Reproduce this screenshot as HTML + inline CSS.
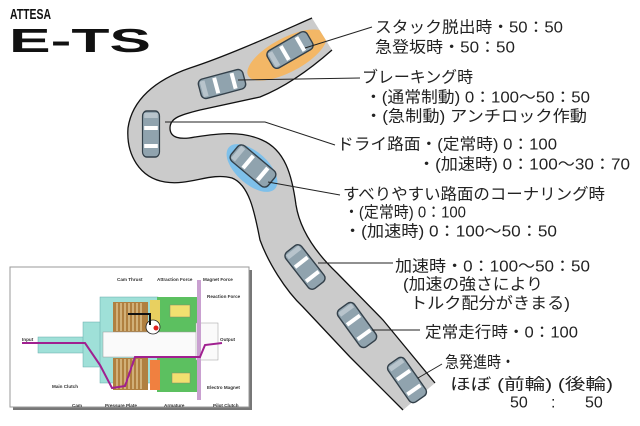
<!DOCTYPE html>
<html><head><meta charset="utf-8"><style>
html,body{margin:0;padding:0;background:#fff;width:640px;height:426px;overflow:hidden}
svg{display:block}
.t{font-family:"Liberation Sans","Noto Sans CJK JP",sans-serif;font-size:16px;fill:#222;dominant-baseline:central}
.s{font-family:"Liberation Sans",sans-serif;font-size:4.6px;fill:#333;font-weight:bold}
</style></head><body>
<svg width="640" height="426" viewBox="0 0 640 426" xmlns="http://www.w3.org/2000/svg">
<defs>
<g id="car">
<rect x="-23" y="-10" width="46" height="20" rx="5" fill="#90a3ae" stroke="#33404a" stroke-width="1.4"/>
<rect x="-8" y="-8" width="4" height="16" fill="#fff"/>
<rect x="10" y="-8" width="4" height="16" fill="#fff"/>
<rect x="-21" y="-8" width="5" height="16" fill="#b8c4cc"/>
</g>
<clipPath id="road"><path d="M312,18 C280,32 230,55 190,68 C155,80 132,100 128,128 C126,155 140,178 165,182 C190,186 210,172 232,178 C250,185 255,215 260,240 C268,262 285,290 303,307 L350,357 L403,410 L435,383 L383,320 L337,273 C315,252 300,230 296,205 C292,175 285,150 262,140 C240,130 215,134 195,137 C180,140 170,138 170,128 C170,118 180,115 200,110 L260,97 C290,85 315,65 332,50 Z"/></clipPath>
</defs>

<text x="10" y="19" font-family="Liberation Sans,sans-serif" font-weight="bold" font-size="15" textLength="41" lengthAdjust="spacingAndGlyphs" fill="#111">ATTESA</text>
<text x="9" y="52" font-family="Liberation Sans,sans-serif" font-weight="bold" font-size="33" textLength="142" lengthAdjust="spacingAndGlyphs" fill="#111">E-TS</text>

<path d="M312,18 C280,32 230,55 190,68 C155,80 132,100 128,128 C126,155 140,178 165,182 C190,186 210,172 232,178 C250,185 255,215 260,240 C268,262 285,290 303,307 L350,357 L403,410 L435,383 L383,320 L337,273 C315,252 300,230 296,205 C292,175 285,150 262,140 C240,130 215,134 195,137 C180,140 170,138 170,128 C170,118 180,115 200,110 L260,97 C290,85 315,65 332,50 Z" fill="#cbcbcb"/>
<g clip-path="url(#road)"><ellipse cx="287" cy="55" rx="44" ry="17" transform="rotate(-28 287 55)" fill="#f3b766"/></g>
<ellipse cx="252" cy="168" rx="31" ry="16" transform="rotate(42 252 168)" fill="#7ec0ea"/>
<path d="M312,18 C280,32 230,55 190,68 C155,80 132,100 128,128 C126,155 140,178 165,182 C190,186 210,172 232,178 C250,185 255,215 260,240 C268,262 285,290 303,307 L350,357 L403,410" fill="none" stroke="#111" stroke-width="1.3"/>
<path d="M435,383 L383,320 L337,273 C315,252 300,230 296,205 C292,175 285,150 262,140 C240,130 215,134 195,137 C180,140 170,138 170,128 C170,118 180,115 200,110 L260,97 C290,85 315,65 332,50" fill="none" stroke="#111" stroke-width="1.3"/>

<use href="#car" transform="translate(290,50) rotate(-30)"/>
<use href="#car" transform="translate(222,84) rotate(-15)"/>
<use href="#car" transform="translate(151,134) rotate(90) scale(1,0.85)"/>
<use href="#car" transform="translate(253,166) rotate(40) scale(1.05,1)"/>
<use href="#car" transform="translate(305,267) rotate(52)"/>
<use href="#car" transform="translate(357,325) rotate(54)"/>
<use href="#car" transform="translate(407,380) rotate(55)"/>

<g stroke="#222" stroke-width="1" fill="none">
<path d="M305,48 L372,27"/>
<path d="M238,80 L360,78"/>
<path d="M165,122 L265,122 L335,145"/>
<path d="M268,182 L340,195"/>
<path d="M318,263 L393,263"/>
<path d="M372,330 L420,330"/>
<path d="M418,378 L442,364"/>
</g>

<text class="t" x="375" y="28" textLength="188" lengthAdjust="spacingAndGlyphs">スタック脱出時・50：50</text>
<text class="t" x="375" y="48" textLength="140" lengthAdjust="spacingAndGlyphs">急登坂時・50：50</text>
<text class="t" x="362" y="78" textLength="111" lengthAdjust="spacingAndGlyphs">ブレーキング時</text>
<text class="t" x="365" y="98" textLength="225" lengthAdjust="spacingAndGlyphs">・(通常制動) 0：100～50：50</text>
<text class="t" x="365" y="117" textLength="222" lengthAdjust="spacingAndGlyphs">・(急制動) アンチロック作動</text>
<text class="t" x="337" y="145" textLength="220" lengthAdjust="spacingAndGlyphs">ドライ路面・(定常時) 0：100</text>
<text class="t" x="418" y="165" textLength="212" lengthAdjust="spacingAndGlyphs">・(加速時) 0：100～30：70</text>
<text class="t" x="343" y="195" textLength="262" lengthAdjust="spacingAndGlyphs">すべりやすい路面のコーナリング時</text>
<text class="t" x="344" y="213" textLength="122" lengthAdjust="spacingAndGlyphs">・(定常時) 0：100</text>
<text class="t" x="344" y="232" textLength="213" lengthAdjust="spacingAndGlyphs">・(加速時) 0：100～50：50</text>
<text class="t" x="395" y="267" textLength="195" lengthAdjust="spacingAndGlyphs">加速時・0：100～50：50</text>
<text class="t" x="403" y="285" textLength="140" lengthAdjust="spacingAndGlyphs">(加速の強さにより</text>
<text class="t" x="410" y="304" textLength="160" lengthAdjust="spacingAndGlyphs">トルク配分がきまる)</text>
<text class="t" x="425" y="333" textLength="153" lengthAdjust="spacingAndGlyphs">定常走行時・0：100</text>
<text class="t" x="445" y="363" textLength="70" lengthAdjust="spacingAndGlyphs">急発進時・</text>
<text class="t" x="450" y="385" textLength="163" lengthAdjust="spacingAndGlyphs">ほぼ (前輪)  (後輪)</text>
<text class="t" x="510" y="403">50</text>
<text class="t" x="551" y="403">:</text>
<text class="t" x="585" y="403">50</text>

<rect x="13" y="270" width="239" height="140" fill="#777"/>
<rect x="10" y="267" width="239" height="140" fill="#fff" stroke="#999" stroke-width="1"/>
<rect x="38" y="337" width="48" height="16" fill="#9fe0d8" stroke="#6aa" stroke-width=".5"/>
<rect x="83" y="322" width="22" height="45" fill="#9fe0d8" stroke="#6aa" stroke-width=".5"/>
<rect x="100" y="297" width="58" height="86" fill="#9fe0d8" stroke="#6aa" stroke-width=".5"/>
<rect x="113" y="302" width="35" height="30" fill="#b08040"/>
<rect x="113" y="358" width="35" height="32" fill="#b08040"/>
<g stroke="#f2e0b0" stroke-width="1"><path d="M117,303V331M121,303V331M125,303V331M129,303V331M133,303V331M137,303V331M141,303V331M117,359V389M121,359V389M125,359V389M129,359V389M133,359V389M137,359V389M141,359V389"/></g>
<rect x="157" y="297" width="43" height="36" fill="#5cc060"/>
<rect x="157" y="357" width="43" height="35" fill="#5cc060"/>
<rect x="150" y="300" width="10" height="30" fill="#e8d060"/>
<rect x="150" y="360" width="10" height="30" fill="#f08040"/>
<rect x="170" y="305" width="20" height="12" fill="#f2e070" stroke="#886" stroke-width=".5"/>
<rect x="172" y="373" width="18" height="10" fill="#f2e070" stroke="#886" stroke-width=".5"/>
<rect x="103" y="332" width="95" height="25" fill="#fafafa" stroke="#999" stroke-width=".5"/>
<rect x="196" y="323" width="22" height="37" fill="#fafafa" stroke="#999" stroke-width=".5"/>
<rect x="197" y="280" width="4" height="120" fill="#c9a0d0"/>
<circle cx="153" cy="327" r="7" fill="#fff" stroke="#222" stroke-width=".8"/>
<circle cx="156" cy="328" r="2.5" fill="#e02020"/>
<path d="M150,325 L150,314 L128,314" fill="none" stroke="#111" stroke-width="2"/>
<path d="M22,343 L85,343 L100,365 L112,388 L125,386 L135,357 L200,357 L205,345 L222,343" fill="none" stroke="#a02090" stroke-width="2"/>
<text class="s" x="117" y="281">Cam Thrust</text>
<text class="s" x="157" y="281">Attraction Force</text>
<text class="s" x="203" y="281">Magnet Force</text>
<text class="s" x="207" y="298">Reaction Force</text>
<text class="s" x="22" y="341">Input</text>
<text class="s" x="220" y="341">Output</text>
<text class="s" x="52" y="388">Main Clutch</text>
<text class="s" x="207" y="389">Electro Magnet</text>
<text class="s" x="72" y="407">Cam</text>
<text class="s" x="105" y="407">Pressure Plate</text>
<text class="s" x="164" y="407">Armature</text>
<text class="s" x="213" y="407">Pilot Clutch</text>
</svg>
</body></html>
